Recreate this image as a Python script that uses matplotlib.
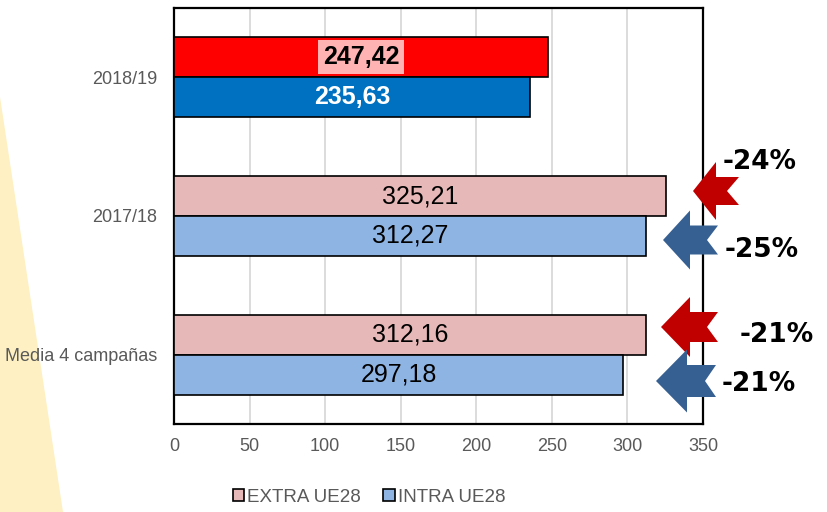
import matplotlib
matplotlib.use("Agg")
import matplotlib.pyplot as plt
from matplotlib.patches import Polygon, Patch

# Datos (de abajo a arriba)
categories = ["Media 4 campañas", "2017/18", "2018/19"]
extra_ue28 = [312.16, 325.21, 247.42]
intra_ue28 = [297.18, 312.27, 235.63]
legend_labels = ["EXTRA UE28", "INTRA UE28"]
x_ticks = [0, 50, 100, 150, 200, 250, 300, 350]

# Variaciones 2018/19 frente a 2017/18 y a la media
pct_labels = ["-24%", "-25%", "-21%", "-21%"]

W, H = 827, 512
plt.rcParams["font.family"] = ["Liberation Sans", "DejaVu Sans"]

fig = plt.figure(figsize=(W / 100, H / 100), dpi=100)
fig.patch.set_facecolor("white")

# Triángulo amarillo de fondo
def px(x, y):
    return (x / W, 1 - y / H)

fig.patches.append(Polygon([px(0, 97), px(63, H), px(0, H)], closed=True,
                           transform=fig.transFigure, facecolor="#FEF0C2",
                           edgecolor="none", zorder=-5))

ax = fig.add_axes([174 / W, 1 - 424 / H, (703 - 174) / W, (424 - 8) / H])
ax.set_facecolor("white")

pos = list(range(len(categories)))
h = 0.288
ext_col = ["#E6B9B8", "#E6B9B8", "#FF0000"]
int_col = ["#8EB4E3", "#8EB4E3", "#0070C0"]
ax.barh([p + h / 2 for p in pos], extra_ue28, height=h, color=ext_col,
        edgecolor="black", linewidth=1.2, zorder=3)
ax.barh([p - h / 2 for p in pos], intra_ue28, height=h, color=int_col,
        edgecolor="black", linewidth=1.2, zorder=3)

for i, p in enumerate(pos):
    last = i == len(pos) - 1
    lab_e = f"{extra_ue28[i]:.2f}".replace(".", ",")
    lab_i = f"{intra_ue28[i]:.2f}".replace(".", ",")
    if last:
        ax.text(extra_ue28[i] / 2, p + h / 2, lab_e, ha="center", va="center",
                fontsize=18, fontweight="bold", color="black", zorder=5,
                bbox=dict(boxstyle="square,pad=0.2", facecolor="#FFB3B3",
                          edgecolor="none"))
        ax.text(intra_ue28[i] / 2, p - h / 2, lab_i, ha="center", va="center",
                fontsize=18, fontweight="bold", color="white", zorder=5)
    else:
        ax.text(extra_ue28[i] / 2, p + h / 2, lab_e, ha="center", va="center",
                fontsize=18, color="black", zorder=5)
        ax.text(intra_ue28[i] / 2, p - h / 2, lab_i, ha="center", va="center",
                fontsize=18, color="black", zorder=5)

ax.set_xlim(0, 350)
ax.set_ylim(-0.5, len(categories) - 0.5)
ax.set_xticks(x_ticks)
ax.set_yticks(pos)
ax.set_yticklabels(categories)
ax.tick_params(axis="both", length=0, labelsize=13, labelcolor="#595959")
ax.tick_params(axis="x", pad=10)
ax.tick_params(axis="y", pad=12)
ax.grid(axis="x", color="#D9D9D9", linewidth=1.3, zorder=0)
ax.set_axisbelow(True)
for s in ax.spines.values():
    s.set_color("black")
    s.set_linewidth(1.6)

# Leyenda
handles = [Patch(facecolor="#E6B9B8", edgecolor="black", linewidth=1.2),
           Patch(facecolor="#8EB4E3", edgecolor="black", linewidth=1.2)]
fig.legend(handles, legend_labels, loc="center", bbox_to_anchor=px(369, 497),
           ncol=2, frameon=False, fontsize=13.5, labelcolor="#595959",
           handlelength=0.62, handleheight=0.62, handletextpad=0.15,
           columnspacing=1.2)

# Flechas con muesca (coordenadas en píxeles de la figura)
def notched_arrow(tx, ty, head_len, head_half, shaft_half, length, notch, color):
    pts = [
        (tx, ty),
        (tx + head_len, ty - head_half),
        (tx + head_len, ty - shaft_half),
        (tx + length, ty - shaft_half),
        (tx + length - notch, ty),
        (tx + length, ty + shaft_half),
        (tx + head_len, ty + shaft_half),
        (tx + head_len, ty + head_half),
    ]
    fig.patches.append(Polygon([px(x, y) for x, y in pts], closed=True,
                               transform=fig.transFigure, facecolor=color,
                               edgecolor="none", zorder=10))

notched_arrow(693, 191, 23, 29, 14, 46, 12, "#C00000")
notched_arrow(663, 240, 27, 29.5, 14.5, 55, 11, "#376092")
notched_arrow(661, 327, 29, 30, 15, 57, 11, "#C00000")
notched_arrow(656, 381, 31, 31.5, 16, 60, 11, "#376092")

pct_pos = [(760, 162), (762, 250), (777, 335), (759, 384)]
for lab, (x, y) in zip(pct_labels, pct_pos):
    fig.text(*px(x, y), lab, ha="center", va="center", fontsize=19,
             fontweight="bold", family="DejaVu Sans", color="black", zorder=11)

fig.savefig("out.png", dpi=100)
